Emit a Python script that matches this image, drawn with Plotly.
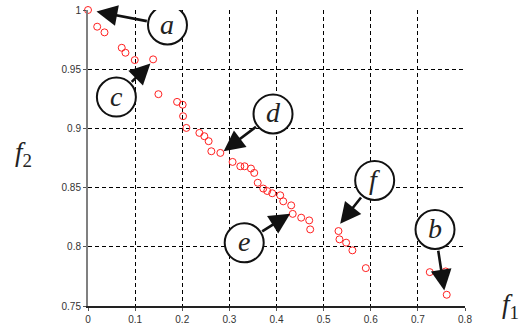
import math
import plotly.graph_objects as go

# ---- data ----
f1 = [0.000, 0.0195, 0.035, 0.0716, 0.0795, 0.0992, 0.1382, 0.1494, 0.189, 0.2009,
      0.2017, 0.2087, 0.2363, 0.2469, 0.256, 0.2617, 0.2808, 0.3068, 0.3232, 0.3323,
      0.3458, 0.3528, 0.3602, 0.3719, 0.3804, 0.391, 0.4079, 0.4143, 0.4312, 0.4344,
      0.4524, 0.4694, 0.4715, 0.5315, 0.5336, 0.5478, 0.5611, 0.5895, 0.7252, 0.759,
      0.7612]
f2 = [1.000, 0.9859, 0.9811, 0.9681, 0.9639, 0.9577, 0.9583, 0.9289, 0.9224, 0.920,
      0.9103, 0.9004, 0.8962, 0.8934, 0.8892, 0.8807, 0.8793, 0.8717, 0.868, 0.868,
      0.8661, 0.8624, 0.8541, 0.8492, 0.8471, 0.8452, 0.8435, 0.8384, 0.835, 0.8278,
      0.8246, 0.8223, 0.8147, 0.8133, 0.8063, 0.8035, 0.797, 0.782, 0.7786, 0.7792,
      0.7595]

labels = ["a", "c", "d", "e", "f", "b"]
label_tip_f1 = [0.018, 0.1324, 0.2878, 0.4291, 0.5351, 0.7561]
label_tip_f2 = [0.9987, 0.9549, 0.8807, 0.828, 0.8195, 0.7631]

x_ticks = [0, 0.1, 0.2, 0.3, 0.4, 0.5, 0.6, 0.7, 0.8]
y_ticks = [0.75, 0.8, 0.85, 0.9, 0.95, 1]

# ---- style / layout helpers ----
circle_offsets = [(71, 13.5), (-34, 33.7), (49.4, -37.3), (-46, 29.2), (34.5, -43.3), (-9.3, -61)]
R = 19.5
serif = "Liberation Serif"

fig = go.Figure()
fig.add_trace(go.Scatter(
    x=f1, y=f2, mode="markers",
    marker=dict(symbol="circle-open", size=7, color="#ff2020", line=dict(width=1)),
    cliponaxis=False, showlegend=False, hoverinfo="skip"))

shapes = []
annotations = []
for lab, tx, ty, (dx, dy) in zip(labels, label_tip_f1, label_tip_f2, circle_offsets):
    dist = math.hypot(dx, dy)
    k = (dist - R) / dist
    annotations.append(dict(
        x=tx, y=ty, xref="x", yref="y", text=" ", showarrow=True,
        ax=dx * k, ay=dy * k, arrowhead=2, arrowsize=1.6, arrowwidth=2.6,
        arrowcolor="#111111", standoff=0, startstandoff=0,
        font=dict(size=1)))
    shapes.append(dict(
        type="circle", xref="x", yref="y", xsizemode="pixel", ysizemode="pixel",
        xanchor=tx, yanchor=ty, x0=dx - R, x1=dx + R, y0=-dy - R, y1=-dy + R,
        line=dict(color="#111111", width=2), fillcolor="white", layer="above"))
    annotations.append(dict(
        x=tx, y=ty, xref="x", yref="y", text=lab, showarrow=False,
        xshift=dx, yshift=-dy + 1,
        font=dict(family=serif, size=28, color="#222222", style="italic")))

annotations.append(dict(
    x=-0.20, y=0.515, xref="paper", yref="paper", showarrow=False,
    text="<i>f</i><sub>2</sub>", font=dict(family=serif, size=27, color="#222222")))
annotations.append(dict(
    x=1.148, y=-0.065, xref="paper", yref="paper", showarrow=False,
    text="<i>f</i><sub>1</sub>", font=dict(family=serif, size=27, color="#222222")))

axis_common = dict(
    showgrid=True, gridcolor="#000000", gridwidth=1, griddash="4px,3px",
    zeroline=False, ticks="outside", ticklen=3, tickcolor="#555555",
    tickfont=dict(family="Liberation Sans", size=10, color="#333333"),
    showline=True, automargin=False)

fig.update_layout(
    width=529, height=326,
    margin=dict(l=88, r=64, t=10, b=20),
    paper_bgcolor="white", plot_bgcolor="white",
    shapes=shapes, annotations=annotations,
    xaxis=dict(range=[0, 0.8], tickvals=x_ticks, ticktext=[f"{v:g}" for v in x_ticks],
               linecolor="#222222", linewidth=1.5, **axis_common),
    yaxis=dict(range=[0.75, 1], tickvals=y_ticks, ticktext=[f"{v:g}" for v in y_ticks],
               linecolor="#808080", linewidth=2, **axis_common),
)

fig.write_html("out.html", config={"displayModeBar": False},
               post_script="document.body.style.margin='0';document.body.style.overflow='hidden';")
